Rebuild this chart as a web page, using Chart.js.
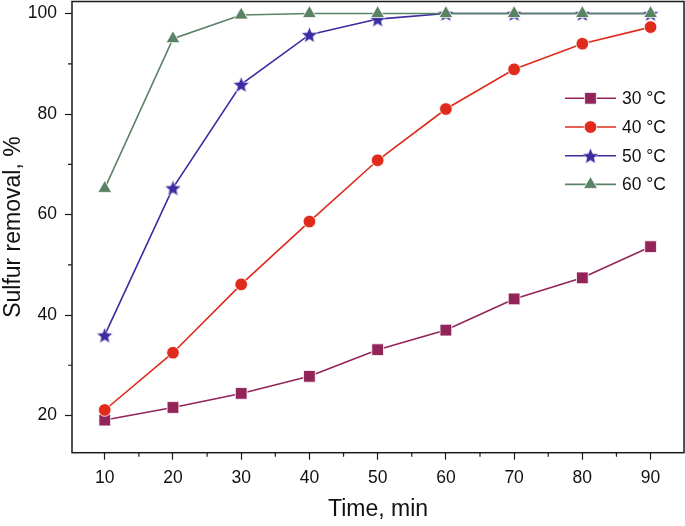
<!DOCTYPE html>
<html>
<head>
<meta charset="utf-8">
<script src="https://cdn.jsdelivr.net/npm/chart.js@4/dist/chart.umd.min.js"></script>
<style>
  html, body { margin: 0; padding: 0; background: #fff; }
  #wrap { width: 685px; height: 526px; }
</style>
</head>
<body>
<div id="wrap"><canvas id="chart"></canvas></div>
<script>
// Data
const times = [10, 20, 30, 40, 50, 60, 70, 80, 90];
const removal30 = [19.1, 21.6, 24.4, 27.8, 33.1, 37.0, 43.2, 47.4, 53.6];
const removal40 = [21.1, 32.5, 46.1, 58.6, 70.8, 81.0, 88.9, 94.0, 97.3];
const removal50 = [36.0, 65.3, 85.9, 95.8, 98.9, 100, 100, 100, 100];
const removal60 = [65.2, 95.0, 99.7, 100, 100, 100, 100, 100, 100];
const seriesLabels = ['30 °C', '40 °C', '50 °C', '60 °C'];
const xTickValues = [10, 20, 30, 40, 50, 60, 70, 80, 90];
const xMinorTicks = [15, 25, 35, 45, 55, 65, 75, 85];
const yTickValues = [20, 40, 60, 80, 100];
const yMinorTicks = [30, 50, 70, 90];

const colors = ['#93245a', '#e02a1c', '#3b2ca0', '#5a8264'];
const FONT = "'Liberation Sans', Arial, sans-serif";

// five point star marker (Chart.js 'star' is an asterisk)
function makeStar(color, r) {
    const c = document.createElement('canvas');
    const size = Math.ceil(r * 2 + 2);
    c.width = size; c.height = size;
    const g = c.getContext('2d');
    const cx = size / 2, cy = size / 2 + 0.8;
    g.beginPath();
    for (let i = 0; i < 10; i++) {
        const rad = i % 2 === 0 ? r : r * 0.45;
        const a = -Math.PI / 2 + i * Math.PI / 5;
        g.lineTo(cx + rad * Math.cos(a), cy + rad * Math.sin(a));
    }
    g.closePath();
    g.fillStyle = color;
    g.fill();
    g.strokeStyle = 'rgba(255,255,255,0.7)';
    g.lineWidth = 0.8;
    g.stroke();
    return c;
}
const starImg = makeStar(colors[2], 8.5);

function toPoints(values) {
    return times.map((t, i) => ({ x: t, y: values[i] }));
}

const styles = [
    { pointStyle: 'rect', radius: 8.3 },
    { pointStyle: 'circle', radius: 6.3 },
    { pointStyle: starImg, radius: 8 },
    { pointStyle: 'triangle', radius: 8 }
];
const allSeries = [removal30, removal40, removal50, removal60];

const datasets = allSeries.map((vals, i) => ({
    label: seriesLabels[i],
    data: toPoints(vals),
    borderColor: colors[i],
    backgroundColor: colors[i],
    borderWidth: 1.6,
    pointStyle: styles[i].pointStyle,
    pointRadius: styles[i].radius,
    pointHoverRadius: styles[i].radius,
    pointBackgroundColor: colors[i],
    pointBorderColor: 'rgba(255,255,255,0.8)',
    pointBorderWidth: 1,
    order: 4 - i,
    tension: 0,
    clip: 12
}));

// frame, minor ticks and the in-plot legend
const framePlugin = {
    id: 'framePlugin',
    afterDraw(chart) {
        const ctx = chart.ctx;
        const area = chart.chartArea;
        const xs = chart.scales.x, ys = chart.scales.y;
        ctx.save();
        ctx.strokeStyle = '#1a1a1a';
        ctx.lineWidth = 1.5;
        ctx.strokeRect(area.left, area.top, area.right - area.left, area.bottom - area.top);

        ctx.lineWidth = 1.2;
        ctx.beginPath();
        xMinorTicks.forEach(v => {
            const px = xs.getPixelForValue(v);
            ctx.moveTo(px, area.bottom);
            ctx.lineTo(px, area.bottom + 4);
        });
        yMinorTicks.forEach(v => {
            const py = ys.getPixelForValue(v);
            ctx.moveTo(area.left, py);
            ctx.lineTo(area.left - 4, py);
        });
        ctx.stroke();

        // legend
        const lx0 = 565, lx1 = 616, ly0 = 98.3, dy = 28.7;
        chart.data.datasets.forEach((ds, i) => {
            const y = ly0 + i * dy;
            ctx.strokeStyle = ds.borderColor;
            ctx.lineWidth = ds.borderWidth;
            ctx.beginPath();
            ctx.moveTo(lx0, y);
            ctx.lineTo(lx1, y);
            ctx.stroke();
            ctx.fillStyle = ds.pointBackgroundColor;
            ctx.strokeStyle = ds.pointBorderColor;
            ctx.lineWidth = ds.pointBorderWidth;
            Chart.helpers.drawPoint(ctx, {
                pointStyle: ds.pointStyle,
                radius: ds.pointRadius,
                rotation: 0,
                borderWidth: ds.pointBorderWidth
            }, (lx0 + lx1) / 2, y);
            ctx.fillStyle = '#111';
            ctx.font = '17.5px ' + FONT;
            ctx.textBaseline = 'middle';
            ctx.textAlign = 'left';
            ctx.fillText(ds.label, 622, y + 1);
        });
        ctx.restore();
    }
};

new Chart(document.getElementById('chart').getContext('2d'), {
    type: 'line',
    data: { datasets: datasets },
    options: {
        responsive: true,
        maintainAspectRatio: false,
        animation: false,
        events: [],
        layout: { autoPadding: false, padding: { top: 1.5, right: 1, left: 0, bottom: 0 } },
        plugins: {
            legend: { display: false },
            tooltip: { enabled: false }
        },
        scales: {
            x: {
                type: 'linear',
                min: 5.2,
                max: 94.9,
                afterFit: scale => { scale.height = 73.3; scale.paddingLeft = 0; scale.paddingRight = 0; },
                afterBuildTicks: scale => { scale.ticks = xTickValues.map(v => ({ value: v })); },
                grid: { drawOnChartArea: false, drawTicks: true, tickLength: 7, tickColor: '#1a1a1a', tickWidth: 1.2 },
                border: { display: false },
                ticks: { color: '#111', font: { family: FONT, size: 17.5 }, padding: 8, maxRotation: 0 },
                title: { display: true, text: 'Time, min', color: '#111', font: { family: FONT, size: 23 }, padding: { top: 0, bottom: 3 } }
            },
            y: {
                type: 'linear',
                min: 12.6,
                max: 102.4,
                afterFit: scale => { scale.width = 72; scale.paddingTop = 0; scale.paddingBottom = 0; },
                afterBuildTicks: scale => { scale.ticks = yTickValues.map(v => ({ value: v })); },
                grid: { drawOnChartArea: false, drawTicks: true, tickLength: 7, tickColor: '#1a1a1a', tickWidth: 1.2 },
                border: { display: false },
                ticks: { color: '#111', font: { family: FONT, size: 17.5 }, padding: 8 },
                title: { display: true, text: 'Sulfur removal, %', color: '#111', font: { family: FONT, size: 23 }, padding: { top: 0, bottom: 0 } }
            }
        }
    },
    plugins: [framePlugin]
});
</script>
</body>
</html>
